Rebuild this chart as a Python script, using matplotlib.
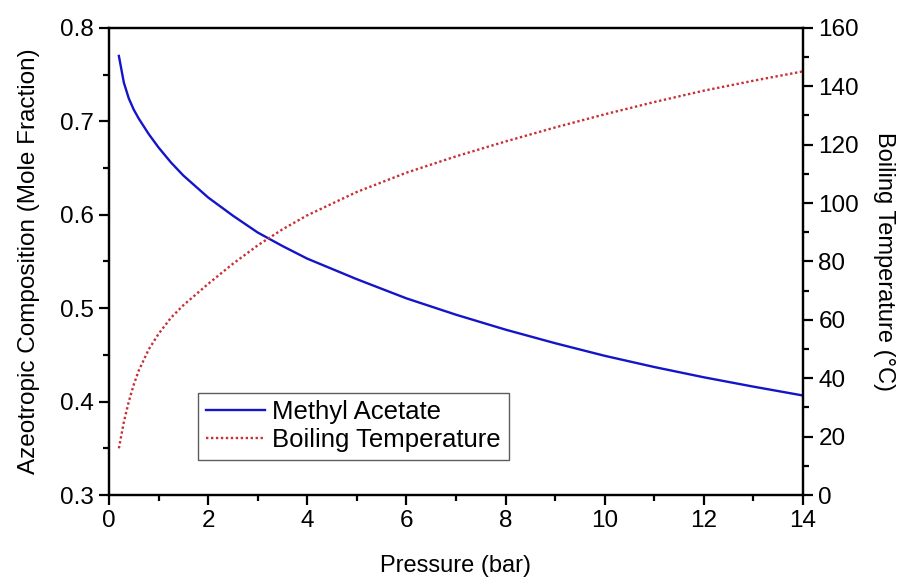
import matplotlib.pyplot as plt
from matplotlib.ticker import MultipleLocator

plt.rcParams['font.family'] = ['Liberation Sans', 'DejaVu Sans']

# values
pressure = [0.2, 0.3, 0.4, 0.5, 0.6, 0.8, 1.0, 1.25, 1.5, 2.0, 2.5, 3.0, 3.5,
            4.0, 5.0, 6.0, 7.0, 8.0, 9.0, 10.0, 11.0, 12.0, 13.0, 14.0]
methyl_acetate = [0.770, 0.7415, 0.7245, 0.7125, 0.703, 0.6865, 0.672, 0.656,
                  0.642, 0.6185, 0.599, 0.581, 0.5665, 0.553, 0.531, 0.5105,
                  0.493, 0.477, 0.4625, 0.449, 0.437, 0.426, 0.416, 0.4065]
boiling_temp = [16, 25, 32, 37.8, 42.6, 49.8, 55.2, 60.7, 65.0, 72.3, 79.2, 85.5,
                91.0, 95.8, 103.8, 110.4, 116.0, 121.1, 125.9, 130.4, 134.6,
                138.5, 141.9, 145.1]

fig = plt.figure(figsize=(9.05, 5.81), dpi=100)
ax = fig.add_axes([0.1204, 0.148, 0.7669, 0.804])
ax2 = ax.twinx()

l1, = ax.plot(pressure, methyl_acetate, color='#1414c8', lw=1.7, label='Methyl Acetate')
l2, = ax2.plot(pressure, boiling_temp, color='#c83035', lw=1.7, ls=(0, (1, 1.1)),
               label='Boiling Temperature')

ax.set_xlim(0, 14)
ax.set_ylim(0.3, 0.8)
ax2.set_ylim(0, 160)
ax.xaxis.set_major_locator(MultipleLocator(2))
ax.xaxis.set_minor_locator(MultipleLocator(1))
ax.yaxis.set_major_locator(MultipleLocator(0.1))
ax.yaxis.set_minor_locator(MultipleLocator(0.05))
ax2.yaxis.set_major_locator(MultipleLocator(20))
ax2.yaxis.set_minor_locator(MultipleLocator(10))

for a in (ax, ax2):
    for s in a.spines.values():
        s.set_linewidth(1.6)
    a.tick_params(which='major', direction='out', length=7, width=1.6,
                  labelsize=17.5, pad=4)
    a.tick_params(which='minor', direction='out', length=4, width=1.6)
ax.tick_params(which='both', top=False, right=False)

ax.set_xlabel('Pressure (bar)', fontsize=17, labelpad=16)
ax.set_ylabel('Azeotropic Composition (Mole Fraction)', fontsize=17.5, labelpad=14)
ax2.set_ylabel('Boiling Temperature (°C)', fontsize=17, rotation=270, labelpad=26)

leg = ax.legend(handles=[l1, l2], loc='lower left', bbox_to_anchor=(0.128, 0.075),
                fontsize=18.5, frameon=True, fancybox=False, edgecolor='#333333',
                borderaxespad=0, handlelength=2.3, handletextpad=0.3,
                labelspacing=0.15, borderpad=0.3)
leg.get_frame().set_linewidth(1.0)

fig.savefig('out.png', dpi=100)
